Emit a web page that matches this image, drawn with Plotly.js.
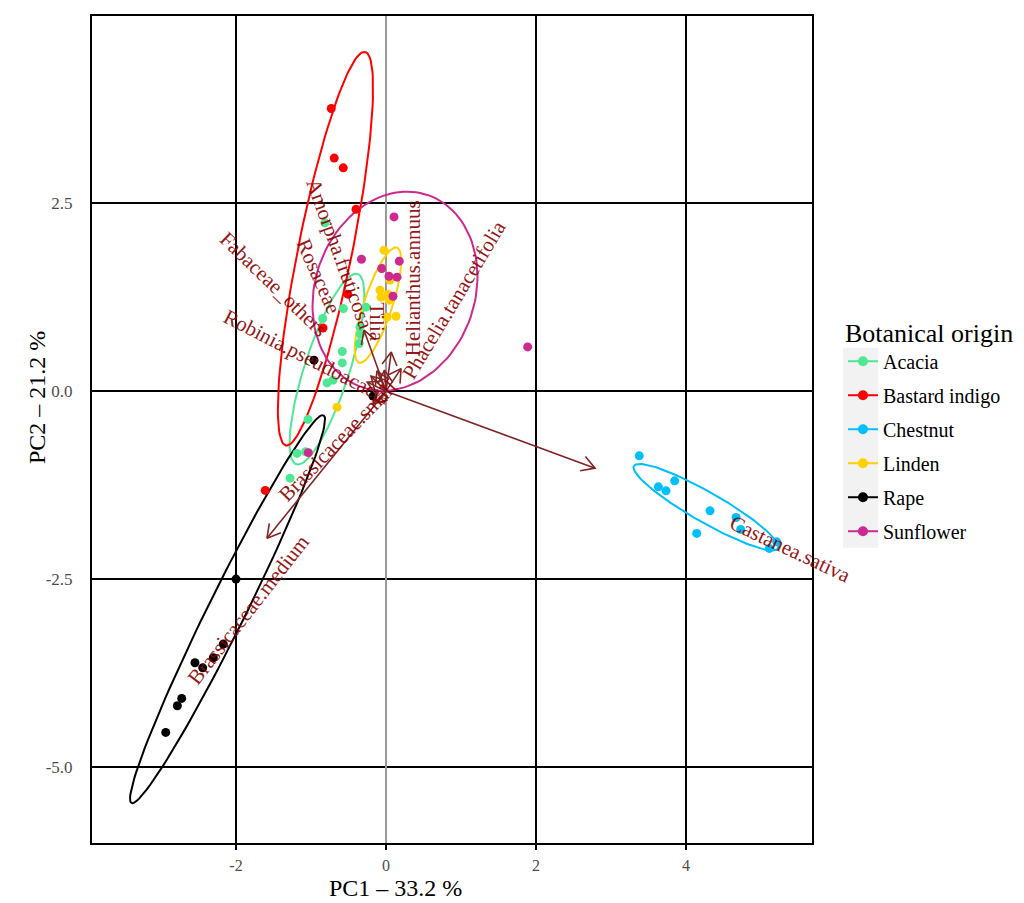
<!DOCTYPE html>
<html><head><meta charset="utf-8">
<script src="https://cdn.plot.ly/plotly-3.0.1.min.js"></script>
<style>html,body{margin:0;padding:0;background:#fff}#chart{width:1024px;height:903px}</style>
</head><body><div id="chart"></div>
<script>
// ---------- data ----------
const groups = ['Acacia', 'Bastard indigo', 'Chestnut', 'Linden', 'Rape', 'Sunflower'];
const groupColors = ['#4EE894', '#FF0000', '#00BFFF', '#FFD000', '#000000', '#CD2990'];

const acaciaX = [-0.813, -0.844, -0.569, -0.267, -0.347, -0.340, -0.356, -0.583, -0.583, -0.787, -0.707, -1.040, -1.073, -1.187, -1.280];
const acaciaY = [2.238, 0.967, 1.100, 1.117, 0.855, 0.758, 0.634, 0.528, 0.376, 0.110, 0.146, -0.376, -0.807, -0.828, -1.157];

const bastardX = [-0.73, -0.69, -0.57, -0.40, -0.51, -0.84, -1.61];
const bastardY = [3.76, 3.10, 2.97, 2.42, 1.29, 0.84, -1.32];

const chestnutX = [3.377, 3.631, 3.733, 3.849, 4.320, 4.143, 4.667, 4.729, 5.209, 5.111];
const chestnutY = [-0.860, -1.273, -1.326, -1.193, -1.592, -1.892, -1.680, -1.839, -2.004, -2.092];

const lindenX = [-0.027, -0.053, 0.053, -0.080, 0.027, -0.067, 0.040, 0.133, 0.013, -0.653];
const lindenY = [1.875, 1.636, 1.476, 1.343, 1.290, 1.250, 1.210, 0.997, 0.984, -0.213];

const rapeX = [-2.000, -2.169, -2.303, -2.444, -2.547, -2.724, -2.782, -2.937, -0.960, -0.173];
const rapeY = [-2.500, -3.364, -3.546, -3.680, -3.613, -4.087, -4.185, -4.539, 0.412, -0.066];

const sunflowerX = [0.107, -0.327, 0.177, -0.057, 0.040, 0.147, 0.093, 1.889, -1.036];
const sunflowerY = [2.318, 1.755, 1.729, 1.632, 1.529, 1.516, 1.263, 0.589, -0.818];

// confidence ellipses (centre, semi-axes, angle in degrees), one per group
const ellCx = [-0.787, -0.807, 4.267, -0.107, -2.113, 0.12];
const ellCy = [0.293, 1.895, -1.543, 1.144, -2.899, 1.33];
const ellA = [1.33, 2.67, 1.107, 0.806, 2.88, 1.351];
const ellB = [0.30, 0.36, 0.20, 0.19, 0.25, 1.066];
const ellAngle = [72.1, 78.6, -29.7, 71.7, 63.6, 70.9];

// variable loadings (arrow tips)
const varNames = ['Castanea.sativa', 'Brassicaceae.medium', 'Brassicaceae.small', 'Robinia.pseudoacacia',
  'Fabaceae_others', 'Rosaceae', 'Amorpha.fruticosa', 'Tilia', 'Helianthus.annuus', 'Phacelia.tanacetifolia'];
const loadX = [2.787, -1.587, -0.17, -0.25, -0.20, -0.12, -0.293, -0.02, 0.07, 0.20];
const loadY = [-1.024, -1.955, -0.17, 0.12, 0.20, 0.27, 0.811, 0.28, 0.52, 0.30];

const xTickVals = [-2, 0, 2, 4];
const xTickText = ['-2', '0', '2', '4'];
const yTickVals = [-5, -2.5, 0, 2.5];
const yTickText = ['-5.0', '-2.5', '0.0', '2.5'];

const xTitle = 'PC1 \u2013 33.2 %';
const yTitle = 'PC2 \u2013 21.2 %';

// ---------- label placement (layout only) ----------
const labelPos = [
  [5.387, -2.101, 25], [-1.84, -2.906, -52], [-0.65, -0.66, -46], [-1.053, 0.452, 27],
  [-1.50, 1.43, 44], [-0.90, 1.53, 66], [-0.62, 1.82, 70], [-0.12, 0.918, 90],
  [0.36, 1.503, -90], [0.907, 1.21, -59]
];

const FONT = 'Liberation Serif, Times New Roman, serif';
const pointX = [acaciaX, bastardX, chestnutX, lindenX, rapeX, sunflowerX];
const pointY = [acaciaY, bastardY, chestnutY, lindenY, rapeY, sunflowerY];

const traces = [];
// ellipses
groups.forEach((g, i) => {
  const ex = [], ey = [];
  const th = ellAngle[i] * Math.PI / 180;
  for (let k = 0; k <= 120; k++) {
    const t = 2 * Math.PI * k / 120;
    const u = ellA[i] * Math.cos(t), v = ellB[i] * Math.sin(t);
    ex.push(ellCx[i] + u * Math.cos(th) - v * Math.sin(th));
    ey.push(ellCy[i] + u * Math.sin(th) + v * Math.cos(th));
  }
  traces.push({x: ex, y: ey, mode: 'lines', line: {color: groupColors[i], width: 2},
    showlegend: false, hoverinfo: 'skip', legendgroup: g});
});
// points
groups.forEach((g, i) => {
  traces.push({x: pointX[i], y: pointY[i], mode: 'markers', name: g, legendgroup: g,
    marker: {color: groupColors[i], size: 9}, showlegend: false});
});
// legend entries
groups.forEach((g, i) => {
  traces.push({x: [null], y: [null], mode: 'lines+markers', name: g, legendgroup: g,
    line: {color: groupColors[i], width: 2}, marker: {color: groupColors[i], size: 10}, showlegend: true});
});
// arrows
const ax = [], ay = [];
const wing = 0.2, wingAng = 30 * Math.PI / 180;
for (let i = 0; i < varNames.length; i++) {
  const tx = loadX[i], ty = loadY[i];
  const len = Math.hypot(tx, ty);
  const dx = tx / len, dy = ty / len;
  const w1x = tx - wing * (dx * Math.cos(wingAng) - dy * Math.sin(wingAng));
  const w1y = ty - wing * (dx * Math.sin(wingAng) + dy * Math.cos(wingAng));
  const w2x = tx - wing * (dx * Math.cos(-wingAng) - dy * Math.sin(-wingAng));
  const w2y = ty - wing * (dx * Math.sin(-wingAng) + dy * Math.cos(-wingAng));
  ax.push(0, tx, null, w1x, tx, w2x, null);
  ay.push(0, ty, null, w1y, ty, w2y, null);
}
traces.push({x: ax, y: ay, mode: 'lines', line: {color: '#832424', width: 1.6},
  showlegend: false, hoverinfo: 'skip'});

const annotations = varNames.map((n, i) => ({
  x: labelPos[i][0], y: labelPos[i][1], xref: 'x', yref: 'y', text: n, showarrow: false,
  textangle: labelPos[i][2], font: {family: FONT, size: 21, color: '#8B0000'}, opacity: 0.9
}));
annotations.push({x: (395 - 92) / 720, y: -(888 - 843) / 827, xref: 'paper', yref: 'paper',
  text: xTitle, showarrow: false, xanchor: 'center', yanchor: 'middle',
  font: {family: FONT, size: 24, color: '#000'}});
annotations.push({x: -(92 - 37) / 720, y: (843 - 397) / 827, xref: 'paper', yref: 'paper',
  text: yTitle, showarrow: false, xanchor: 'center', yanchor: 'middle', textangle: -90,
  font: {family: FONT, size: 24, color: '#000'}});

const layout = {
  width: 1024, height: 903,
  margin: {l: 92, r: 212, t: 16, b: 60, autoexpand: false},
  paper_bgcolor: '#ffffff', plot_bgcolor: '#ffffff',
  font: {family: FONT, color: '#000'},
  xaxis: {
    range: [-3.92, 5.68], tickvals: xTickVals, ticktext: xTickText,
    showgrid: true, gridcolor: '#000', gridwidth: 2,
    zeroline: true, zerolinecolor: '#9a9a9a', zerolinewidth: 2,
    showline: true, mirror: true, linecolor: '#000', linewidth: 2,
    ticks: 'outside', ticklen: 5, tickcolor: '#000', tickwidth: 1.5,
    ticklabelstandoff: 2,
    tickfont: {family: FONT, size: 16, color: '#4d4d4d'},
    automargin: false
  },
  yaxis: {
    range: [-6.01, 4.99], tickvals: yTickVals, ticktext: yTickText,
    showgrid: true, gridcolor: '#000', gridwidth: 2,
    zeroline: true, zerolinecolor: '#000', zerolinewidth: 2,
    showline: true, mirror: true, linecolor: '#000', linewidth: 2,
    ticks: '', ticklabelstandoff: 14,
    tickfont: {family: FONT, size: 17, color: '#4d4d4d'},
    automargin: false
  },
  legend: {
    x: 1.043, xanchor: 'left', y: 0.647, yanchor: 'top',
    title: {text: 'Botanical origin', font: {family: FONT, size: 26, color: '#000'}},
    font: {family: FONT, size: 20, color: '#000'},
    bgcolor: 'rgba(0,0,0,0)', tracegroupgap: 5, itemwidth: 30
  },
  shapes: [{type: 'rect', xref: 'paper', yref: 'paper', x0: 1.043, x1: 1.092, y0: 0.357, y1: 0.599,
    fillcolor: '#f2f2f2', line: {width: 0}, layer: 'below'}],
  annotations: annotations,
  showlegend: true
};

Plotly.newPlot('chart', traces, layout, {displayModeBar: false, staticPlot: true});
</script>
</body></html>
